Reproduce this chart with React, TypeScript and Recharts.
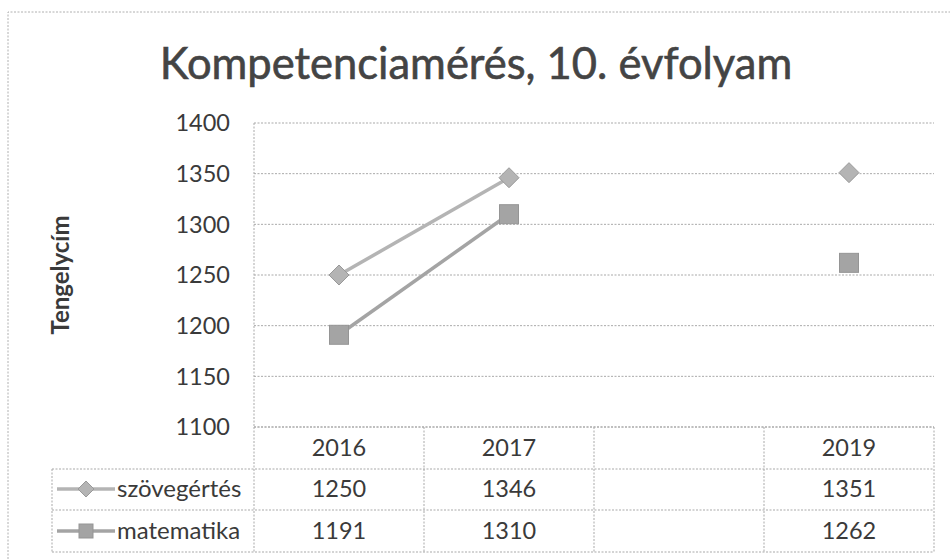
import React from 'react';
import { LineChart, Line, XAxis, YAxis, CartesianGrid } from 'recharts';

const title = 'Kompetenciamérés, 10. évfolyam';
const yAxisTitle = 'Tengelycím';
const categories = ['2016', '2017', '', '2019'];
const seriesNames = ['szövegértés', 'matematika'];
const szovegertes: (number | null)[] = [1250, 1346, null, 1351];
const matematika: (number | null)[] = [1191, 1310, null, 1262];
const yTicks = [1100, 1150, 1200, 1250, 1300, 1350, 1400];

const data = categories.map((c, i) => ({ cat: c, szov: szovegertes[i], mat: matematika[i] }));

const FONT = 'Lato, "Open Sans", sans-serif';
const TEXT = '#3a3a3a';
const GRID = '#a9a9a9';
const C_SZOV = '#b4b4b4';
const C_MAT = '#a4a4a4';

const Diamond = ({ cx, cy, r }: { cx: number; cy: number; r: number }) => (
  <polygon
    points={`${cx},${cy - r} ${cx + r},${cy} ${cx},${cy + r} ${cx - r},${cy}`}
    fill={C_SZOV}
    stroke="#999"
    strokeWidth={1}
  />
);

const Square = ({ cx, cy, r }: { cx: number; cy: number; r: number }) => (
  <rect x={cx - r} y={cy - r} width={2 * r} height={2 * r} fill={C_MAT} stroke="#959595" strokeWidth={1} />
);

const ROW1 = 42;
const ROW2 = 83;
const ROW3 = 125;
const LABEL_COL = 202;

const TableTick = (props: any) => {
  const { x, y, payload, index } = props;
  const half = payload && payload.offset ? payload.offset : 85;
  const left = x - half;
  const n = categories.length;
  const lineProps = { stroke: GRID, strokeWidth: 1, strokeDasharray: '2 1.5' };
  const txt = { fontFamily: FONT, fontSize: 23.5, fill: TEXT, textAnchor: 'middle' as const };
  const v1 = szovegertes[index];
  const v2 = matematika[index];
  return (
    <g>
      <line x1={left} y1={y} x2={left} y2={y + ROW3} {...lineProps} />
      {index === n - 1 && <line x1={x + half} y1={y} x2={x + half} y2={y + ROW3} {...lineProps} />}
      <text x={x} y={y + 29} {...txt}>{payload.value}</text>
      <text x={x} y={y + 70} {...txt}>{v1 == null ? '' : v1}</text>
      <text x={x} y={y + 112} {...txt}>{v2 == null ? '' : v2}</text>
      {index === 0 && (
        <g>
          {[ROW1, ROW2, ROW3].map((r) => (
            <line key={r} x1={left - LABEL_COL} y1={y + r} x2={left + n * 2 * half} y2={y + r} {...lineProps} />
          ))}
          <line x1={left - LABEL_COL} y1={y + ROW1} x2={left - LABEL_COL} y2={y + ROW3} {...lineProps} />
          <line x1={left - LABEL_COL + 5} y1={y + 62} x2={left - LABEL_COL + 63} y2={y + 62} stroke={C_SZOV} strokeWidth={3.5} />
          <Diamond cx={left - LABEL_COL + 34} cy={y + 62} r={8} />
          <text x={left - LABEL_COL + 65} y={y + 70} fontFamily={FONT} fontSize={24} fill={TEXT}>{seriesNames[0]}</text>
          <line x1={left - LABEL_COL + 5} y1={y + 104} x2={left - LABEL_COL + 63} y2={y + 104} stroke={C_MAT} strokeWidth={3.5} />
          <Square cx={left - LABEL_COL + 34} cy={y + 104} r={7} />
          <text x={left - LABEL_COL + 65} y={y + 112} fontFamily={FONT} fontSize={24} fill={TEXT}>{seriesNames[1]}</text>
        </g>
      )}
    </g>
  );
};

const YLabel = (props: any) => {
  const vb = props.viewBox || { x: 0, y: 123, width: 254, height: 304 };
  const cx = 59;
  const cy = vb.y + vb.height / 2;
  return (
    <text
      x={cx}
      y={cy}
      transform={`rotate(-90, ${cx}, ${cy})`}
      textAnchor="middle"
      dominantBaseline="central"
      fontFamily={FONT}
      fontWeight="bold"
      fontSize={24}
      fill={TEXT}
    >
      {yAxisTitle}
    </text>
  );
};

export default function App() {
  return (
    <div style={{ position: 'absolute', left: 0, top: 0, width: 950, height: 559, background: '#fff' }}>
      <LineChart
        width={950}
        height={559}
        data={data}
        margin={{ top: 123, right: 16, bottom: 7, left: 0 }}
      >
        <CartesianGrid vertical={false} stroke={GRID} strokeDasharray="2 1.5" />
        <XAxis
          dataKey="cat"
          scale="band"
          height={125}
          interval={0}
          tickSize={0}
          tickMargin={0}
          tickLine={false}
          axisLine={{ stroke: GRID, strokeDasharray: '2 1.5' }}
          tick={<TableTick />}
        />
        <YAxis
          width={254}
          domain={[1100, 1400]}
          ticks={yTicks}
          interval={0}
          tickSize={0}
          tickMargin={24}
          tickLine={false}
          axisLine={{ stroke: GRID, strokeDasharray: '2 1.5' }}
          tick={{ fontFamily: FONT, fontSize: 23.5, fill: TEXT }}
          label={<YLabel />}
        />
        <Line
          dataKey="szov"
          name={seriesNames[0]}
          stroke={C_SZOV}
          strokeWidth={3.5}
          isAnimationActive={false}
          dot={(p: any) =>
            p.cy == null || p.value == null ? <g key={`ds${p.index}`} /> : <Diamond key={`ds${p.index}`} cx={p.cx} cy={p.cy} r={10} />
          }
          activeDot={false}
        />
        <Line
          dataKey="mat"
          name={seriesNames[1]}
          stroke={C_MAT}
          strokeWidth={3.5}
          isAnimationActive={false}
          dot={(p: any) =>
            p.cy == null || p.value == null ? <g key={`dm${p.index}`} /> : <Square key={`dm${p.index}`} cx={p.cx} cy={p.cy} r={9.5} />
          }
          activeDot={false}
        />
      </LineChart>
      <svg width={950} height={559} style={{ position: 'absolute', left: 0, top: 0, pointerEvents: 'none' }}>
        <path d="M8,559 L8,12 L950,12" fill="none" stroke="#b0b0b0" strokeWidth={1} strokeDasharray="2 1.5" />
        <text x={476} y={79} textAnchor="middle" fontFamily={FONT} fontSize={43.5} fill="#444" stroke="#444" strokeWidth={0.6}>
          {title}
        </text>
      </svg>
    </div>
  );
}
